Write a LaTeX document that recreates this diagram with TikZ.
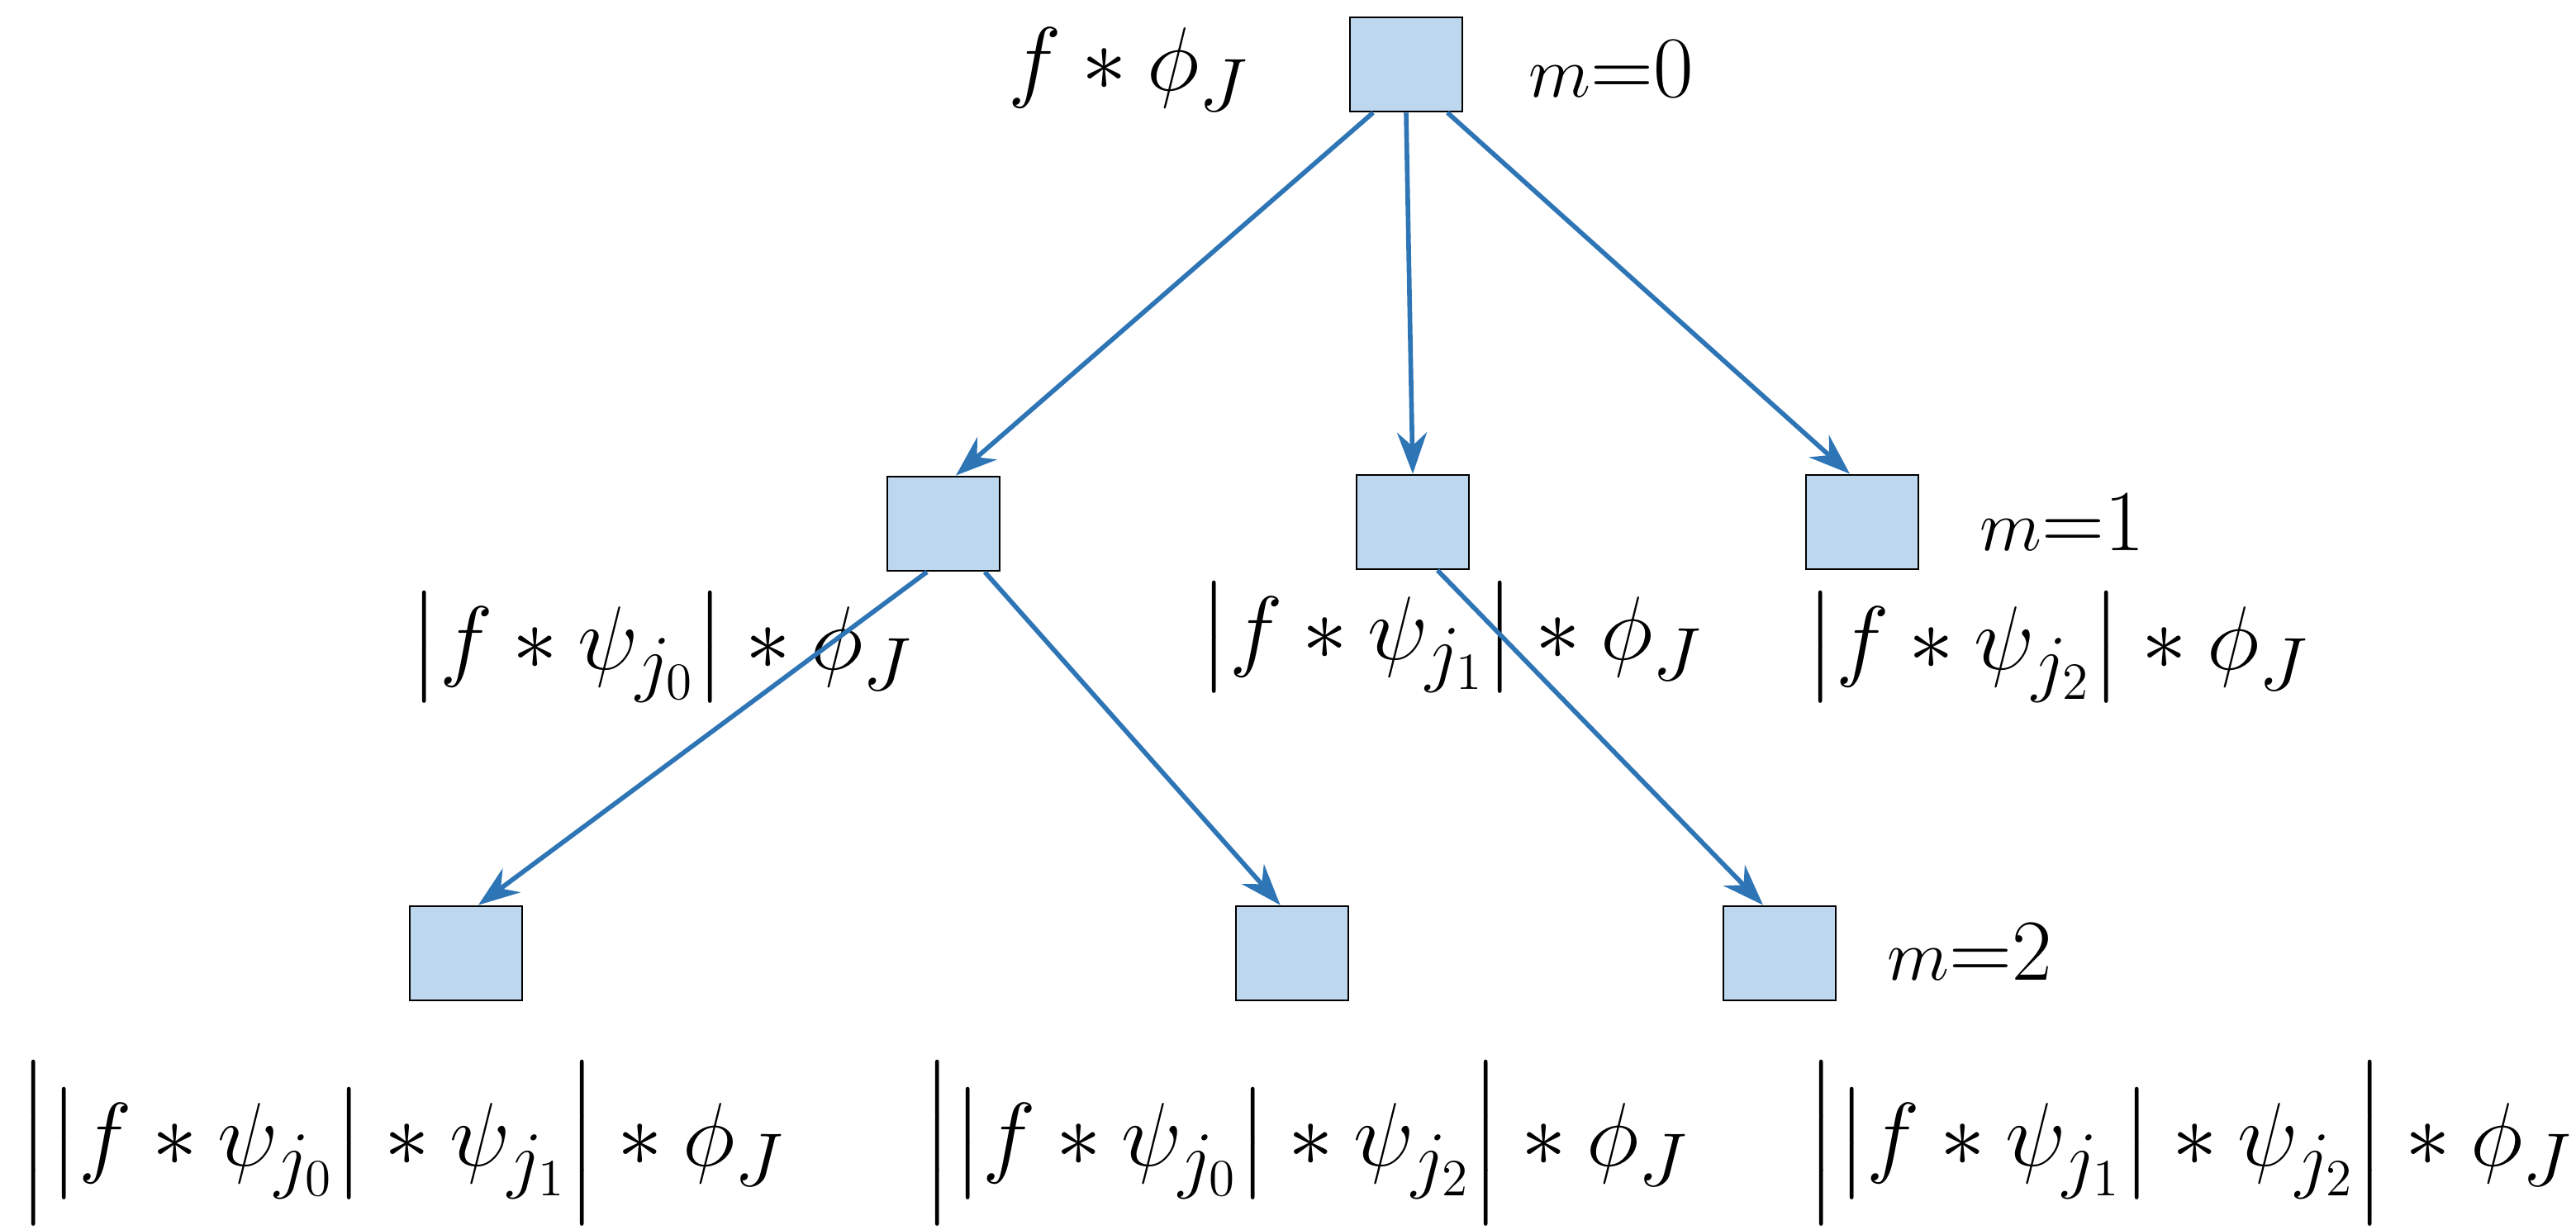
\documentclass[tikz,border=0pt]{standalone}
\usepackage{amsmath}
\usepackage{graphicx}
\usetikzlibrary{arrows.meta}
\definecolor{boxblue}{RGB}{189,215,238}
\definecolor{linkblue}{RGB}{46,117,182}
\newcommand{\bigmath}[1]{\scalebox{1.25}{$#1$}}
\tikzset{
	coef/.style={
		rectangle, draw=black, thick, fill=boxblue,
		minimum width=1.36cm, minimum height=1.14cm, inner sep=0pt
	},
	%
	lab/.style={
		inner sep=0pt, font=\fontsize{30}{36}\selectfont
	},
	%
	level/.style={
		inner sep=0pt, font=\fontsize{30}{36}\selectfont
	},
	%
	link/.style={
		draw=linkblue, line width=1.6pt, -{Stealth[length=5mm,width=3.6mm]}
	}
}
\begin{document}
\begin{tikzpicture}[x=0.02cm,y=-0.02cm]
\useasboundingbox (0,0) rectangle (1559,744.5);
%coefficients
\node (S0) [coef] at (851,39) {};
\node (S1a) [coef] at (571,317) {};
\node (S1b) [coef] at (855,316) {};
\node (S1c) [coef] at (1127,316) {};
\node (S2a) [coef] at (282,577) {};
\node (S2b) [coef] at (782,577) {};
\node (S2c) [coef] at (1077,577) {};

%labels
\node (L0) [lab] at (683,42) {\bigmath{f\ast\phi_J}};
\node (M0) [level] at (975,42) {$m$=0};
\node (M1) [level] at (1248,316) {$m$=1};
\node (M2) [level] at (1192,576) {$m$=2};
\node (L1a) [lab] at (400,392) {\bigmath{\bigl|f\ast\psi_{j_0}\bigr|\ast\phi_J}};
\node (L1b) [lab] at (878,386) {\bigmath{\bigl|f\ast\psi_{j_1}\bigr|\ast\phi_J}};
\node (L1c) [lab] at (1245,392) {\bigmath{\bigl|f\ast\psi_{j_2}\bigr|\ast\phi_J}};
\node (L2a) [lab] at (243,692) {\bigmath{\Bigl|\bigl|f\ast\psi_{j_0}\bigr|\ast\psi_{j_1}\Bigr|\ast\phi_J}};
\node (L2b) [lab] at (790,692) {\bigmath{\Bigl|\bigl|f\ast\psi_{j_0}\bigr|\ast\psi_{j_2}\Bigr|\ast\phi_J}};
\node (L2c) [lab] at (1325,692) {\bigmath{\Bigl|\bigl|f\ast\psi_{j_1}\bigr|\ast\psi_{j_2}\Bigr|\ast\phi_J}};

%arrows
\draw[link] ([xshift=-0.4cm]S0.south) to ([xshift=0.15cm]S1a.north);
\draw[link] (S0.south) to (S1b.north);
\draw[link] ([xshift=0.5cm]S0.south) to ([xshift=-0.15cm]S1c.north);
\draw[link] ([xshift=-0.2cm]S1a.south) to ([xshift=0.15cm]S2a.north);
\draw[link] ([xshift=0.5cm]S1a.south) to ([xshift=0.55cm]S2b.north west);
\draw[link] ([xshift=0.3cm]S1b.south) to ([xshift=-0.2cm]S2c.north);
\end{tikzpicture}
\end{document}
